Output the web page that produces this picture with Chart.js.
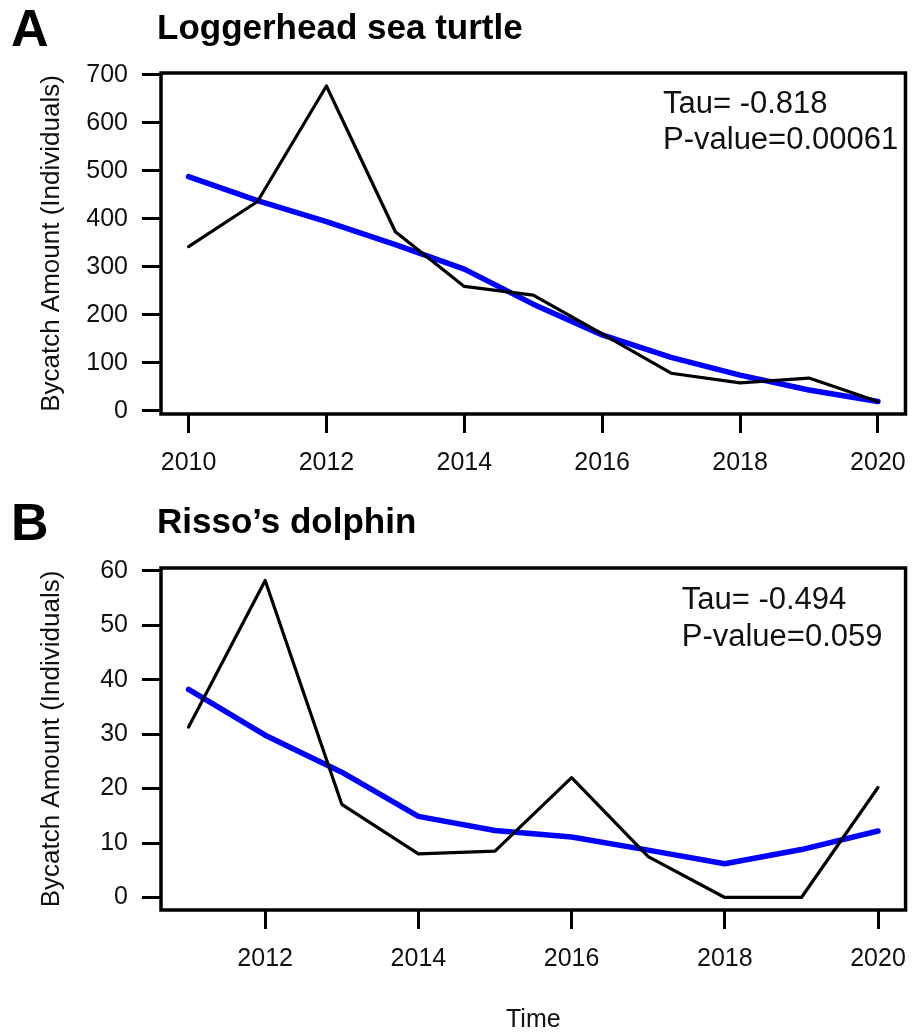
<!DOCTYPE html>
<html><head><meta charset="utf-8">
<script src="https://cdn.jsdelivr.net/npm/chart.js@4.4.1/dist/chart.umd.min.js"></script>
<style>
html,body{margin:0;padding:0;background:#fff;overflow:hidden;width:921px;height:1033px;}
canvas{position:absolute;left:0;}
#cA{top:0px}
#cB{top:494px}
</style></head><body>
<canvas id="cA" width="921" height="494"></canvas>
<canvas id="cB" width="921" height="545"></canvas>
<script>
// ---- Panel A: Loggerhead sea turtle ----
const turtleYears   = [2010, 2011, 2012, 2013, 2014, 2015, 2016, 2017, 2018, 2019, 2020];
const turtleBycatch = [342, 436, 677, 373, 259, 241, 160, 78, 58, 68, 19];
const turtleTrend   = [488, 438, 394, 346, 295, 222, 158, 111, 74, 43, 19];
const turtleXTicks  = [2010, 2012, 2014, 2016, 2018, 2020];
const turtleYTicks  = [0, 100, 200, 300, 400, 500, 600, 700];
const turtleStats   = ['Tau= -0.818', 'P-value=0.00061'];

// ---- Panel B: Risso's dolphin ----
const dolphinYears   = [2011, 2012, 2013, 2014, 2015, 2016, 2017, 2018, 2019, 2020];
const dolphinBycatch = [31.3, 58.2, 17.1, 8.0, 8.5, 22.0, 7.5, 0, 0, 20.2];
const dolphinTrend   = [38.2, 29.8, 23.0, 14.9, 12.3, 11.1, 8.7, 6.2, 8.8, 12.2];
const dolphinXTicks  = [2012, 2014, 2016, 2018, 2020];
const dolphinYTicks  = [0, 10, 20, 30, 40, 50, 60];
const dolphinStats   = ['Tau= -0.494', 'P-value=0.059'];

const FONT = '"Liberation Sans", Arial, sans-serif';

function pts(xs, ys){ return xs.map((x,i)=>({x:x, y:ys[i]})); }

const framePlugin = {
  id:'frame',
  afterDraw(chart){
    const a = chart.chartArea, c = chart.ctx;
    c.save();
    c.strokeStyle = '#000'; c.lineWidth = 3.5;
    c.strokeRect(a.left, a.top, a.right - a.left, a.bottom - a.top);
    c.restore();
  }
};

function makeChart(id, cfg){
  const textPlugin = {
    id:'texts',
    afterDraw(chart){
      const c = chart.ctx;
      c.save();
      c.fillStyle = '#000';
      c.textBaseline = 'alphabetic';
      c.textAlign = 'left';
      c.font = 'bold 52px ' + FONT;
      c.fillText(cfg.letter, 11, cfg.letterY);
      c.font = 'bold 35px ' + FONT;
      c.fillText(cfg.title, 157, cfg.titleY);
      c.font = '31px ' + FONT;
      c.fillStyle = '#111';
      cfg.stats.forEach((s,i)=> c.fillText(s, cfg.statsX, cfg.statsY + i*36.6));
      c.restore();
    }
  };
  return new Chart(document.getElementById(id), {
    type:'line',
    data:{ datasets:[
      { data: pts(cfg.years, cfg.values), borderColor:'#000', borderWidth:3.2, pointRadius:0,
        tension:0, borderJoinStyle:'round', borderCapStyle:'round', fill:false },
      { data: pts(cfg.years, cfg.trend), borderColor:'#0000ff', borderWidth:5.5, pointRadius:0,
        tension:0, borderJoinStyle:'round', borderCapStyle:'round', fill:false }
    ]},
    options:{
      responsive:false, animation:false, devicePixelRatio:1,
      layout:{ padding:{ top:cfg.padTop, right:cfg.padRight, left:0, bottom:0 } },
      plugins:{ legend:{display:false}, tooltip:{enabled:false}, title:{display:false} },
      scales:{
        x:{ type:'linear', min:cfg.xMin, max:cfg.xMax,
          afterBuildTicks: s => { s.ticks = cfg.xTicks.map(v=>({value:v})); },
          afterFit: s => { s.height = cfg.xHeight; },
          grid:{ drawOnChartArea:false, drawTicks:true, tickLength:19, tickWidth:3, tickColor:'#000', color:'#000', lineWidth:3 },
          border:{ display:false },
          ticks:{ font:{family:FONT, size:25}, color:'#111', padding:15, maxRotation:0, autoSkip:false,
                  callback: v => String(v) },
          title:{ display: !!cfg.xTitle, text: cfg.xTitle || '', font:{family:FONT, size:25}, color:'#111',
                  padding:{top:0, bottom:4} }
        },
        y:{ type:'linear', min:cfg.yMin, max:cfg.yMax,
          afterBuildTicks: s => { s.ticks = cfg.yTicks.map(v=>({value:v})); },
          afterFit: s => { s.width = 161; },
          grid:{ drawOnChartArea:false, drawTicks:true, tickLength:19, tickWidth:3, tickColor:'#000', color:'#000', lineWidth:3 },
          border:{ display:false },
          ticks:{ font:{family:FONT, size:25}, color:'#111', padding:14, autoSkip:false,
                  callback: v => String(v) },
          title:{ display:true, text:'Bycatch Amount (Individuals)', font:{family:FONT, size:26}, color:'#111',
                  padding:{top:36, bottom:0} }
        }
      }
    },
    plugins:[framePlugin, textPlugin]
  });
}

makeChart('cA', {
  years: turtleYears, values: turtleBycatch, trend: turtleTrend,
  xTicks: turtleXTicks, yTicks: turtleYTicks,
  xMin: 2009.6, xMax: 2020.4, yMin: -7, yMax: 704,
  padTop: 73, padRight: 8, xHeight: 80,
  letter: 'A', letterY: 46, title: 'Loggerhead sea turtle', titleY: 39,
  stats: turtleStats, statsX: 663, statsY: 112.7
});

makeChart('cB', {
  years: dolphinYears, values: dolphinBycatch, trend: dolphinTrend,
  xTicks: dolphinXTicks, yTicks: dolphinYTicks,
  xMin: 2010.64, xMax: 2020.36, yMin: -2.3, yMax: 60.5,
  padTop: 74, padRight: 5, xHeight: 129, xTitle: 'Time',
  letter: 'B', letterY: 46, title: 'Risso\u2019s dolphin', titleY: 39,
  stats: dolphinStats, statsX: 681.7, statsY: 115.3
});
</script>
</body></html>
